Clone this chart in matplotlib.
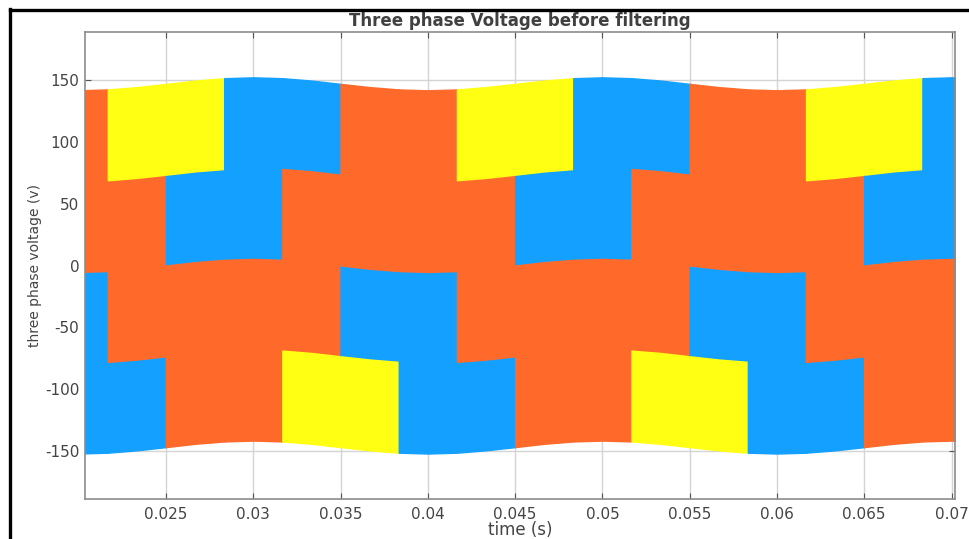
import numpy as np
import matplotlib.pyplot as plt
from matplotlib.lines import Line2D

# sample times, one every 1/600 s (step edges and step midpoints)
t = np.round(0.018333 + np.arange(33) / 600.0, 6)

ripple = np.array([-4.5, -5.2, -4.5, -2.6, 0.0, 2.7, 4.6, 5.3, 4.6, 2.7, 0.0, -2.6,
                   -4.5, -5.2, -4.5, -2.6, 0.0, 2.7, 4.6, 5.3, 4.6, 2.7, 0.0, -2.6,
                   -4.5, -5.2, -4.5, -2.6, 0.0, 2.7, 4.6, 5.3, 4.6])

# voltage levels of the six-step waveform (index 0 = top ... 4 = bottom)
levels = [147.0, 73.5, 0.0, -73.5, -147.0]

# visible band of each phase in the six steps: (top level, bottom level)
blue_band = [(3, 4), (1, 2), (0, 2), (0, 1), (2, 3), (2, 4)]
orange_band = [(1, 3), (2, 4), (2, 4), (1, 3), (0, 2), (0, 2)]
yellow_band = [(0, 1), (0, 1), None, (3, 4), (3, 4), None]

n_seg = 16
first_step = 5

xticks = [0.025, 0.03, 0.035, 0.04, 0.045, 0.05, 0.055, 0.06, 0.065, 0.07]
xlabels = ['0.025', '0.03', '0.035', '0.04', '0.045', '0.05', '0.055', '0.06', '0.065', '0.07']
yticks = [-150, -100, -50, 0, 50, 100, 150]

c_blue = '#14A0FF'
c_orange = '#FF6A2B'
c_yellow = '#FFFF14'

plt.rcParams['font.family'] = ['DejaVu Sans']
plt.rcParams['axes.unicode_minus'] = False

fig = plt.figure(figsize=(9.69, 5.39), dpi=100)
ax = fig.add_axes([85/969, 40/539, 870/969, 467/539])

for j in range(n_seg):
    step = (j + first_step) % 6
    ts = t[2*j:2*j+3]
    rp = ripple[2*j:2*j+3]
    for band, col in ((blue_band[step], c_blue),
                      (orange_band[step], c_orange),
                      (yellow_band[step], c_yellow)):
        if band is None:
            continue
        hi = levels[band[0]] + rp
        lo = levels[band[1]] + rp
        ax.fill_between(ts, lo, hi, color=col, lw=1.0, edgecolor=col, zorder=2)

ax.set_xlim(0.02036, 0.0702)
ax.set_ylim(-189, 189)
ax.set_xticks(xticks)
ax.set_xticklabels(xlabels)
ax.set_yticks(yticks)
ax.set_axisbelow(True)
ax.grid(True, color='#d4d4d4', lw=1.0)
ax.tick_params(direction='in', top=True, right=True, length=4, color='#555555',
               labelsize=11, labelcolor='#444444')
ax.tick_params(axis='x', pad=6)
ax.tick_params(axis='y', pad=4)
for s in ax.spines.values():
    s.set_color('#8c8c8c')
    s.set_linewidth(1.2)

ax.set_title('Three phase Voltage before filtering', fontsize=12, fontweight='bold',
             color='#404040', pad=4)
ax.set_xlabel('time (s)', fontsize=12, color='#444444', labelpad=-1)
ax.set_ylabel('three phase voltage (v)', fontsize=10, color='#444444', labelpad=2)

# black frame of the screenshot (left and top)
fig.add_artist(Line2D([9.5/969, 9.5/969], [0, 1 - 9/539], color='black', lw=2.4,
                      transform=fig.transFigure))
fig.add_artist(Line2D([9.5/969, 1], [1 - 10/539, 1 - 10/539], color='black', lw=2.4,
                      transform=fig.transFigure))

fig.savefig('out.png', dpi=100)
